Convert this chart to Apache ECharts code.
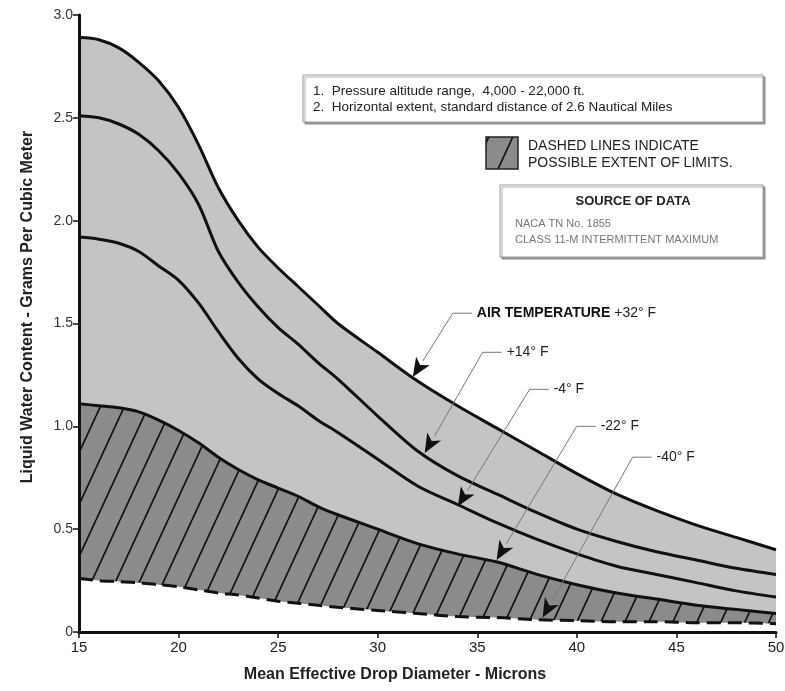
<!DOCTYPE html>
<html>
<head>
<meta charset="utf-8">
<script src="https://cdn.jsdelivr.net/npm/echarts@6/dist/echarts.min.js"></script>
<style>
html, body { margin: 0; padding: 0; background: #fff; }
#main { width: 785px; height: 691px; }
</style>
</head>
<body>
<div id="main"></div>
<script>
// drop diameter (microns)
const xs = [15, 16, 17, 18, 19, 20, 21, 22, 23, 24, 25, 26, 27, 28, 30, 32, 34, 36, 38, 40, 42, 44, 46, 48, 50];
// liquid water content (g/m3) per air temperature
const t32  = [2.89, 2.88, 2.84, 2.77, 2.68, 2.55, 2.37, 2.16, 2.00, 1.87, 1.77, 1.68, 1.59, 1.50, 1.36, 1.22, 1.10, 0.99, 0.88, 0.77, 0.67, 0.59, 0.52, 0.46, 0.40];
const t14  = [2.51, 2.50, 2.47, 2.42, 2.34, 2.23, 2.08, 1.85, 1.70, 1.58, 1.48, 1.40, 1.31, 1.23, 1.05, 0.88, 0.76, 0.67, 0.58, 0.50, 0.44, 0.39, 0.35, 0.31, 0.28];
const tm4  = [1.92, 1.91, 1.89, 1.85, 1.78, 1.71, 1.60, 1.46, 1.33, 1.23, 1.16, 1.10, 1.03, 0.97, 0.84, 0.71, 0.62, 0.53, 0.45, 0.38, 0.32, 0.28, 0.24, 0.20, 0.17];
const tm22 = [1.11, 1.10, 1.09, 1.07, 1.03, 0.98, 0.92, 0.85, 0.79, 0.74, 0.70, 0.66, 0.61, 0.57, 0.50, 0.43, 0.38, 0.34, 0.28, 0.23, 0.19, 0.16, 0.13, 0.11, 0.09];
const tm40 = [0.26, 0.25, 0.245, 0.24, 0.23, 0.22, 0.205, 0.19, 0.18, 0.165, 0.15, 0.14, 0.13, 0.12, 0.105, 0.09, 0.075, 0.07, 0.06, 0.055, 0.05, 0.05, 0.045, 0.045, 0.04];

const xTicks = [15, 20, 25, 30, 35, 40, 45, 50];

// annotation arrows: tip on the curve, knee of the leader, label
const annoText  = ['{b|AIR TEMPERATURE} +32° F', '+14° F', '-4° F', '-22° F', '-40° F'];
const annoTipX  = [31.76, 32.36, 34.02, 35.97, 38.28];
const annoTipY  = [1.24, 0.87, 0.61, 0.35, 0.07];
const annoKneeX = [33.77, 35.27, 37.63, 39.99, 42.80];
const annoKneeY = [1.55, 1.36, 1.18, 1.00, 0.85];

// hatch pattern for the "possible extent" band
const hatch = document.createElement('canvas');
hatch.width = 24;
hatch.height = 52;
(function () {
    const c = hatch.getContext('2d');
    c.fillStyle = '#8b8b8b';
    c.fillRect(0, 0, 24, 52);
    c.strokeStyle = '#111';
    c.lineWidth = 1.7;
    [-24, 0, 24].forEach(function (dx) {
        c.beginPath();
        c.moveTo(dx, 52);
        c.lineTo(dx + 24, 0);
        c.stroke();
    });
})();
const hatchFill = { image: hatch, repeat: 'repeat' };

const pairs = (ys) => xs.map((x, i) => [x, ys[i]]);

function curve(ys, extra) {
    return Object.assign({
        type: 'line',
        data: pairs(ys),
        smooth: 0.3,
        symbol: 'none',
        silent: true,
        lineStyle: { color: '#111', width: 3 }
    }, extra || {});
}

var myChart = echarts.init(document.getElementById('main'));

var option = {
    animation: false,
    backgroundColor: '#fff',
    grid: { left: 79, right: 9, top: 15, bottom: 59, containLabel: false, outerBoundsMode: 'none' },
    xAxis: {
        type: 'value',
        min: 15, max: 50, interval: 5,
        z: 5,
        axisLine: { lineStyle: { color: '#111', width: 3 } },
        axisTick: { length: 6, lineStyle: { color: '#111', width: 1.5 } },
        splitLine: { show: false },
        axisLabel: {
            margin: 8, color: '#222', fontSize: 15,
            fontFamily: 'Liberation Sans Narrow, Arial Narrow, Liberation Sans, sans-serif',
            customValues: xTicks
        }
    },
    yAxis: {
        type: 'value',
        min: 0, max: 3, interval: 0.5,
        z: 5,
        axisLine: { show: true, lineStyle: { color: '#111', width: 3 } },
        axisTick: { show: true, length: 6, lineStyle: { color: '#111', width: 1.5 } },
        splitLine: { show: false },
        axisLabel: {
            margin: 6, color: '#333', fontSize: 14,
            fontFamily: 'Liberation Sans, Arial, sans-serif',
            formatter: (v) => (v === 0 ? '0' : v.toFixed(1))
        }
    },
    series: [
        curve(t32, { areaStyle: { color: '#c4c4c4', opacity: 1 } }),
        curve(t14),
        curve(tm4),
        curve(tm22, { areaStyle: { color: hatchFill, opacity: 1 } }),
        curve(tm40, {
            lineStyle: { color: '#111', width: 3, type: [14, 7] },
            areaStyle: { color: '#fff', opacity: 1 }
        })
    ]
};
myChart.setOption(option);

// static texts and boxes
const fontMain = 'Liberation Sans, Arial, sans-serif';
var graphics = [
    {
        type: 'text', x: 28, y: 307, rotation: Math.PI / 2,
        style: { text: 'Liquid Water Content - Grams Per Cubic Meter', font: 'bold 16px ' + fontMain, fill: '#222', align: 'center', verticalAlign: 'middle' }
    },
    {
        type: 'text', x: 395, y: 675,
        style: { text: 'Mean Effective Drop Diameter - Microns', font: 'bold 16px ' + fontMain, fill: '#222', align: 'center', verticalAlign: 'middle' }
    },
    {
        type: 'rect', shape: { x: 303, y: 75, width: 460, height: 47 },
        style: { fill: '#fff', stroke: '#999', lineWidth: 1, shadowColor: 'rgba(0,0,0,0.35)', shadowOffsetX: 2, shadowOffsetY: 2, shadowBlur: 1 }
    },
    {
        type: 'text', x: 313, y: 91,
        style: { text: '1.  Pressure altitude range,  4,000 - 22,000 ft.', font: '13.5px ' + fontMain, fill: '#222', verticalAlign: 'middle' }
    },
    {
        type: 'text', x: 313, y: 107,
        style: { text: '2.  Horizontal extent, standard distance of 2.6 Nautical Miles', font: '13.5px ' + fontMain, fill: '#222', verticalAlign: 'middle' }
    },
    {
        type: 'rect', shape: { x: 486, y: 137, width: 32, height: 32 },
        style: { fill: hatchFill, stroke: '#222', lineWidth: 1.5 }
    },
    {
        type: 'text', x: 528, y: 146,
        style: { text: 'DASHED LINES INDICATE', font: '14px ' + fontMain, fill: '#222', verticalAlign: 'middle' }
    },
    {
        type: 'text', x: 528, y: 163,
        style: { text: 'POSSIBLE EXTENT OF LIMITS.', font: '14px ' + fontMain, fill: '#222', verticalAlign: 'middle' }
    },
    {
        type: 'rect', shape: { x: 500, y: 185, width: 263, height: 72 },
        style: { fill: '#fff', stroke: '#999', lineWidth: 1, shadowColor: 'rgba(0,0,0,0.35)', shadowOffsetX: 2, shadowOffsetY: 2, shadowBlur: 1 }
    },
    {
        type: 'text', x: 633, y: 201,
        style: { text: 'SOURCE OF DATA', font: 'bold 13px ' + fontMain, fill: '#222', align: 'center', verticalAlign: 'middle' }
    },
    {
        type: 'text', x: 515, y: 224,
        style: { text: 'NACA TN No. 1855', font: '11px ' + fontMain, fill: '#777', verticalAlign: 'middle' }
    },
    {
        type: 'text', x: 515, y: 240,
        style: { text: 'CLASS 11-M INTERMITTENT MAXIMUM', font: '11px ' + fontMain, fill: '#777', verticalAlign: 'middle' }
    }
];

// leader lines and arrow heads, placed through the axes
for (let i = 0; i < annoText.length; i++) {
    const tip = myChart.convertToPixel({ gridIndex: 0 }, [annoTipX[i], annoTipY[i]]);
    const knee = myChart.convertToPixel({ gridIndex: 0 }, [annoKneeX[i], annoKneeY[i]]);
    const dx = knee[0] - tip[0], dy = knee[1] - tip[1];
    const len = Math.sqrt(dx * dx + dy * dy);
    const ux = dx / len, uy = dy / len;
    const bx = tip[0] + ux * 19, by = tip[1] + uy * 19;
    graphics.push({
        type: 'polyline', z: 20,
        shape: { points: [[bx, by], knee, [knee[0] + 19, knee[1]]] },
        style: { stroke: '#777', lineWidth: 1, fill: null }
    });
    graphics.push({
        type: 'polygon', z: 20,
        shape: { points: [tip, [bx - uy * 8, by + ux * 8], [tip[0] + ux * 14, tip[1] + uy * 14], [bx + uy * 8, by - ux * 8]] },
        style: { fill: '#111' }
    });
    graphics.push({
        type: 'text', z: 20, x: knee[0] + 24, y: knee[1],
        style: {
            text: annoText[i], font: '14px ' + fontMain, fill: '#222', verticalAlign: 'middle',
            rich: { b: { fontWeight: 'bold', fontSize: 14, fontFamily: fontMain, fill: '#111' } }
        }
    });
}

myChart.setOption({ graphic: graphics });
</script>
</body>
</html>
